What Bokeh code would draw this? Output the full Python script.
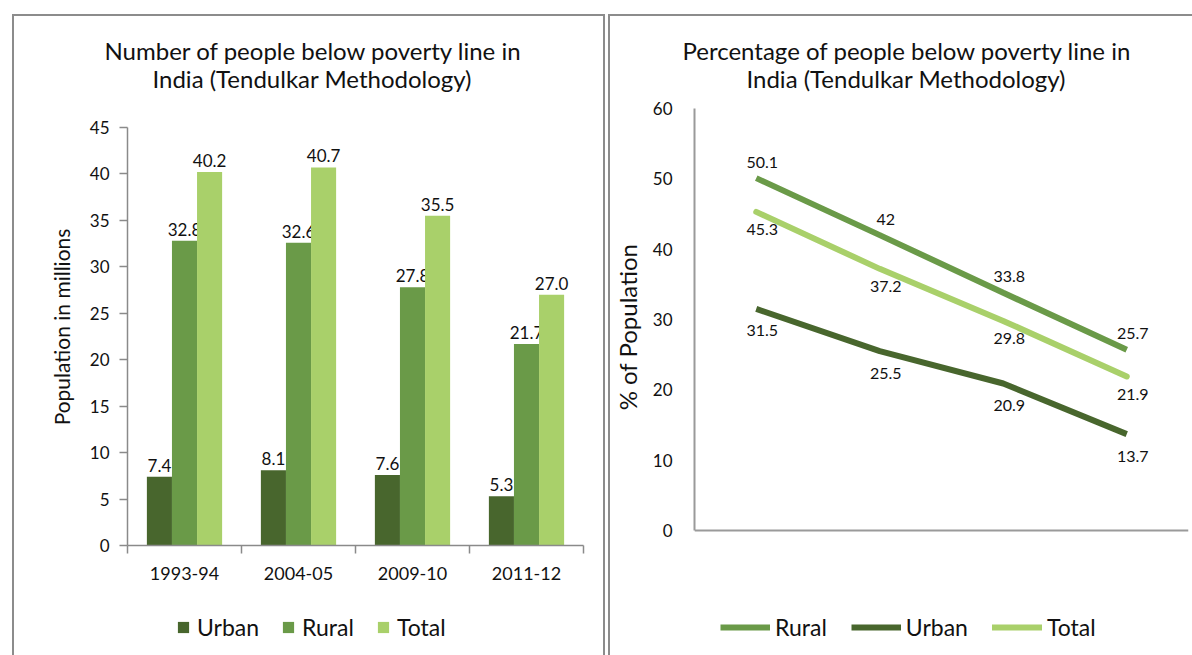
from bokeh.plotting import figure
from bokeh.models import (Range1d, FixedTicker, LinearAxis, Legend, LegendItem,
                          ColumnDataSource, InlineStyleSheet, Title)
from bokeh.layouts import row, column
from bokeh.embed import file_html
from bokeh.resources import INLINE
from bokeh.core.properties import value

# ---------------- data ----------------
periods = ["1993-94", "2004-05", "2009-10", "2011-12"]

urban_millions = [7.4, 8.1, 7.6, 5.3]
rural_millions = [32.8, 32.6, 27.8, 21.7]
total_millions = [40.2, 40.7, 35.5, 27.0]

rural_pct = [50.1, 42.0, 33.8, 25.7]
urban_pct = [31.5, 25.5, 20.9, 13.7]
total_pct = [45.3, 37.2, 29.8, 21.9]

left_y_ticks = [0, 5, 10, 15, 20, 25, 30, 35, 40, 45]
right_y_ticks = [0, 10, 20, 30, 40, 50, 60]

left_title = ["Number of people below poverty line in", "India (Tendulkar Methodology)"]
right_title = ["Percentage of people below poverty line in", "India (Tendulkar Methodology)"]

# ---------------- style ----------------
FONT = "Lato"
C_URBAN = "#48662d"
C_RURAL = "#6a9a48"
C_TOTAL = "#a9d06a"
AXIS_GRAY = "#8a8a8a"
TXT = "#111111"

n = len(periods)
centers = [i + 0.5 for i in range(n)]
boundaries = [float(i) for i in range(n + 1)]
overrides = {c: lab for c, lab in zip(centers, periods)}

# chart figures share frame top=108, bottom=545; legend strips below
CH_H, LEG_H = 610, 45
FR_TOP, FR_BOTTOM = 108, 545


def frame_css(left, right, border_right=True):
    br = "" if border_right else "border-right: none;"
    return InlineStyleSheet(css=f"""
:host {{ position: relative; }}
:host::after {{
  content: ""; position: absolute; left: {left}px; top: 14px; right: {right}px; bottom: 0px;
  border: 2px solid #8c8c8c; border-bottom: none; {br}
  pointer-events: none; z-index: 10;
}}
""")


def add_title(p, lines, offsets):
    # first added sits nearest the frame
    p.add_layout(Title(text=lines[1], align="left", offset=offsets[1], standoff=31,
                       text_font=FONT, text_font_size="24px", text_font_style="normal",
                       text_color=TXT), "above")
    p.add_layout(Title(text=lines[0], align="left", offset=offsets[0], standoff=-36,
                       text_font=FONT, text_font_size="24px", text_font_style="normal",
                       text_color=TXT), "above")


def legend_strip(width, items, x, **kw):
    lf = figure(width=width, height=LEG_H, x_range=Range1d(0, 1), y_range=Range1d(0, 1),
                output_backend="svg", toolbar_location=None, min_border=0,
                x_axis_location=None, y_axis_location=None)
    lf.grid.visible = False
    lf.outline_line_color = None
    leg_items = []
    for name, maker in items:
        r = maker(lf)
        r.visible = False
        leg_items.append(LegendItem(label=name, renderers=[r]))
    leg = Legend(items=leg_items, orientation="horizontal", location=(x, 14),
                 label_height=28, label_text_font=FONT, label_text_font_size="23px",
                 label_text_color=TXT, padding=0, margin=0, border_line_color=None,
                 background_fill_alpha=0, inactive_fill_alpha=0, **kw)
    lf.add_layout(leg, "center")
    return lf


# ---------------- left: bars ----------------
l_max = 45
l_px_per_unit = (545 - 127) / l_max
p1 = figure(width=606, height=CH_H, x_range=Range1d(0, n),
            y_range=Range1d(0, (FR_BOTTOM - FR_TOP) / l_px_per_unit),
            output_backend="svg", toolbar_location=None,
            min_border_left=127, min_border_right=23,
            min_border_top=FR_TOP, min_border_bottom=CH_H - FR_BOTTOM,
            x_axis_location=None, y_axis_location=None)
p1.grid.visible = False
p1.outline_line_color = None
add_title(p1, left_title, (-23, 25))

bw = 0.22
series = [("Urban", urban_millions, C_URBAN, -bw),
          ("Rural", rural_millions, C_RURAL, 0.0),
          ("Total", total_millions, C_TOTAL, bw)]
for name, vals, col, off in series:
    src = ColumnDataSource(dict(x=[c + off for c in centers], top=vals,
                                lab=[f"{v:.1f}" for v in vals]))
    p1.vbar(x="x", top="top", width=bw, source=src, fill_color=col, line_color=None)
    p1.text(x="x", y="top", text="lab", source=src, text_align="center", text_baseline="bottom",
            y_offset=-5, text_font=value(FONT), text_font_size="17px", text_color=TXT)

yax1 = LinearAxis(ticker=FixedTicker(ticks=left_y_ticks), bounds=(0, l_max),
                  axis_label="Population in millions",
                  axis_line_color=AXIS_GRAY, axis_line_width=1.5,
                  major_tick_line_color=AXIS_GRAY, major_tick_line_width=1.5,
                  major_tick_in=0, major_tick_out=8, minor_tick_line_color=None,
                  major_label_text_font=FONT, major_label_text_font_size="17px",
                  major_label_text_color=TXT, major_label_standoff=10,
                  axis_label_text_font=FONT, axis_label_text_font_size="21px",
                  axis_label_text_font_style="normal", axis_label_text_color=TXT,
                  axis_label_standoff=13)
p1.add_layout(yax1, "left")
xax1 = LinearAxis(ticker=FixedTicker(ticks=centers, minor_ticks=boundaries),
                  major_label_overrides=overrides,
                  axis_line_color=AXIS_GRAY, axis_line_width=1.5,
                  major_tick_line_color=None, major_tick_in=0, major_tick_out=8,
                  minor_tick_line_color=AXIS_GRAY, minor_tick_line_width=1.5,
                  minor_tick_in=0, minor_tick_out=8,
                  major_label_text_font=FONT, major_label_text_font_size="18px",
                  major_label_text_color=TXT, major_label_standoff=13)
p1.add_layout(xax1, "below")

leg1 = legend_strip(606, [(name, (lambda f, c=col, v=vals: f.vbar(x=centers, top=v, width=0.1,
                                                                 fill_color=c, line_color=None)))
                          for name, vals, col, _ in series],
                    49, glyph_width=14, glyph_height=14, label_standoff=7, spacing=22)

# ---------------- right: lines ----------------
r_max = 60
r_px_per_unit = (530 - 108) / r_max
p2 = figure(width=586, height=CH_H, x_range=Range1d(0, n),
            y_range=Range1d(-(FR_BOTTOM - 530) / r_px_per_unit, r_max),
            output_backend="svg", toolbar_location=None,
            min_border_left=88, min_border_right=4,
            min_border_top=FR_TOP, min_border_bottom=CH_H - FR_BOTTOM,
            x_axis_location=None, y_axis_location=None)
p2.grid.visible = False
p2.outline_line_color = None
add_title(p2, right_title, (-12, 52))

line_series = [("Rural", rural_pct, C_RURAL, "butt", -16),
               ("Urban", urban_pct, C_URBAN, "butt", 22),
               ("Total", total_pct, C_TOTAL, "round", 18)]
for name, vals, col, cap, dy in line_series:
    src = ColumnDataSource(dict(x=centers, y=vals, lab=[f"{v:g}" for v in vals]))
    p2.line(x="x", y="y", source=src, line_color=col, line_width=6, line_cap=cap)
    p2.text(x="x", y="y", text="lab", source=src, text_align="center", text_baseline="middle",
            y_offset=dy, x_offset=6,
            text_font=value(FONT), text_font_size="16px", text_color=TXT)

yax2 = LinearAxis(ticker=FixedTicker(ticks=right_y_ticks), bounds=(0, r_max),
                  axis_label="% of Population",
                  axis_line_color="#9a9a9a", axis_line_width=2,
                  major_tick_line_color=None, major_tick_in=0, major_tick_out=0,
                  minor_tick_line_color=None,
                  major_label_text_font=FONT, major_label_text_font_size="17px",
                  major_label_text_color=TXT, major_label_standoff=22,
                  axis_label_text_font=FONT, axis_label_text_font_size="24px",
                  axis_label_text_font_style="normal", axis_label_text_color=TXT,
                  axis_label_standoff=8)
p2.add_layout(yax2, "left")
xax2 = LinearAxis(ticker=FixedTicker(ticks=centers), major_label_overrides=overrides,
                  fixed_location=0,
                  axis_line_color="#9a9a9a", axis_line_width=2,
                  major_tick_line_color=None, major_tick_in=0, major_tick_out=0,
                  minor_tick_line_color=None,
                  major_label_text_font=FONT, major_label_text_font_size="17px",
                  major_label_text_color=TXT, major_label_standoff=22)
p2.add_layout(xax2, "below")

leg2 = legend_strip(586, [(name, (lambda f, c=col, cp=cap, v=vals: f.line(x=centers, y=v,
                                                                          line_color=c, line_width=6,
                                                                          line_cap=cp)))
                          for name, vals, col, cap, _ in line_series],
                    26, glyph_width=50, glyph_height=20, label_standoff=5, spacing=24)

left_panel = column(p1, leg1)
right_panel = column(p2, leg2)
left_panel.stylesheets = [frame_css(12, 1)]
right_panel.stylesheets = [frame_css(2, -20, border_right=False)]

layout = row(left_panel, right_panel)
open("out.html", "w").write(file_html(layout, INLINE))
